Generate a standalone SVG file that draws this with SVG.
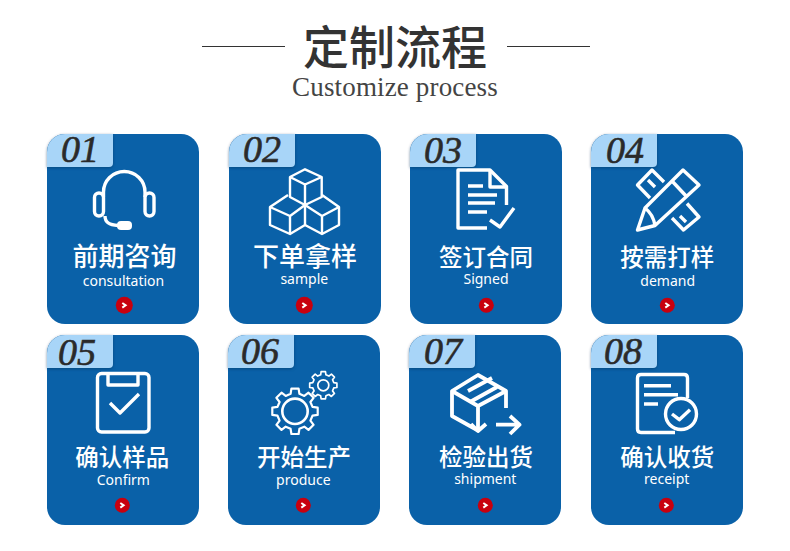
<svg xmlns="http://www.w3.org/2000/svg" width="790" height="551" viewBox="0 0 790 551">
<style>
.card{fill:#0A61A8}
.tab{fill:#A8D5F8}
.num{font:italic 400 38px "Liberation Serif",serif;fill:#2A2A2A;stroke:#2A2A2A;stroke-width:.6}
.cn{font-family:"Noto Sans CJK SC",sans-serif;font-weight:500;fill:#fff;text-anchor:middle;font-size:23.500px}
.cnb{font-size:26px}
.en{font-family:"Noto Sans",sans-serif;font-size:14px;fill:#fff;text-anchor:middle}
.dot{fill:#C8000E}
.chev{fill:none;stroke:#fff;stroke-width:2}
.ic{fill:none;stroke:#fff;stroke-width:3.400;stroke-linejoin:round}
.ln{stroke:#333;stroke-width:1}
</style>
<defs>
<path id="tabshape" d="M0,33V18A18,18 0 0 1 18,0H66V29Q66,33 62,33Z"/>
<filter id="soft" x="-20%" y="-20%" width="140%" height="140%"><feGaussianBlur stdDeviation="1.400"/></filter>
<g id="chevron"><path class="chev" d="M-2,-2.300L1.300,0L-2,2.300"/></g>
<path id="gear" d="M17.500,-4.400L22.700,-3.600V3.600L17.500,4.400L15.400,9.300L18.600,13.500L13.500,18.600L9.300,15.400L4.400,17.500L3.600,22.700H-3.600L-4.400,17.500L-9.300,15.400L-13.500,18.600L-18.600,13.500L-15.400,9.300L-17.500,4.400L-22.700,3.600V-3.600L-17.500,-4.400L-15.400,-9.300L-18.600,-13.500L-13.500,-18.600L-9.300,-15.400L-4.400,-17.500L-3.600,-22.700H3.600L4.400,-17.500L9.300,-15.400L13.500,-18.600L18.600,-13.500L15.400,-9.300Z"/>
</defs>
<rect width="790" height="551" fill="#fff"/>
<g id="header">
<line class="ln" x1="202" y1="46.500" x2="285" y2="46.500"/>
<line class="ln" x1="507" y1="46.500" x2="590" y2="46.500"/>
<text x="395" y="64" text-anchor="middle" font-family="'Noto Sans CJK SC',serif" font-size="46" font-weight="500" fill="#333">定制流程</text>
<text x="395" y="96" text-anchor="middle" font-family="'Liberation Serif',serif" font-size="27" letter-spacing=".15" fill="#444">Customize process</text>
</g>
<g id="connectors"/>
<g id="node-01">
<rect class="card" x="47" y="134" width="152" height="190" rx="18"/>
<use href="#tabshape" x="47" y="135" fill="#06345E" opacity=".55" filter="url(#soft)"/>
<use href="#tabshape" class="tab" x="47" y="134"/>
<text class="num" x="61" y="162">01</text>
<g class="ic">
<path d="M103.500,197V192A20.700,20.500 0 0 1 145,192V197"/>
<rect x="94.500" y="193" width="9" height="23" rx="4.500"/>
<rect x="145" y="193" width="9" height="23" rx="4.500"/>
<path d="M105,216C105,223 110,225 118,225.500"/>
</g>
<rect x="117" y="221" width="15" height="9" rx="4" fill="#fff"/>
<text class="cn cnb" x="124.500" y="266">前期咨询</text>
<text class="en" x="123.500" y="286">consultation</text>
<circle class="dot" cx="124.300" cy="305.300" r="8.500"/>
<use href="#chevron" x="124.300" y="305.300"/>
</g>
<g id="node-02">
<rect class="card" x="229" y="134" width="152" height="190" rx="18"/>
<use href="#tabshape" x="229" y="135" fill="#06345E" opacity=".55" filter="url(#soft)"/>
<use href="#tabshape" class="tab" x="229" y="134"/>
<text class="num" x="243" y="162">02</text>
<g class="ic" style="stroke-width:2.400">
<path d="M305,169.300L321.700,177V197L305,205L290,197V177Z"/>
<path d="M290,177L305,184.500L321.700,177M305,184.500V205"/>
<path d="M288,195L270,207V225L290,234L305,225V205"/>
<path d="M270,207L290,216L305,205M290,216V234"/>
<path d="M305,225L322,234L339,225V207L322,195"/>
<path d="M305,205L322,216L339,207M322,216V234"/>
</g>
<text class="cn cnb" x="305" y="266">下单拿样</text>
<text class="en" x="304.300" y="284">sample</text>
<circle class="dot" cx="304.300" cy="305.300" r="8.500"/>
<use href="#chevron" x="304.300" y="305.300"/>
</g>
<g id="node-03">
<rect class="card" x="410" y="134" width="152" height="190" rx="18"/>
<use href="#tabshape" x="410" y="135" fill="#06345E" opacity=".55" filter="url(#soft)"/>
<use href="#tabshape" class="tab" x="410" y="134"/>
<text class="num" x="424" y="163">03</text>
<g class="ic">
<path d="M487,228H458V170H490L506.500,186.500V205"/>
<path d="M490,171V187H506"/>
<path d="M468,186H483M468,195H497M468,203H495M468,212H487"/>
<path d="M490,220L500,227L514,208"/>
</g>
<text class="cn" x="486" y="266">签订合同</text>
<text class="en" x="486" y="284">Signed</text>
<circle class="dot" cx="486.300" cy="305.300" r="7.500"/>
<use href="#chevron" x="486.300" y="305.300"/>
</g>
<g id="node-04">
<rect class="card" x="591" y="134" width="152" height="190" rx="18"/>
<use href="#tabshape" x="591" y="135" fill="#06345E" opacity=".55" filter="url(#soft)"/>
<use href="#tabshape" class="tab" x="591" y="134"/>
<text class="num" x="606" y="163">04</text>
<g class="ic">
<path d="M664,182L652,170L637.500,185L650,198"/>
<path d="M648,180L655,187"/>
<path d="M687,203.500L699,217L683.500,230L672,218"/>
<path d="M680,216L686,222"/>
<path d="M683,170L699,185L655,225.500L637.500,230L645,208Z"/>
<path d="M672,181L687,197M645,208Q653,214 655,225.500"/>
</g>
<text class="cn" x="667.300" y="266">按需打样</text>
<text class="en" x="667.700" y="286">demand</text>
<circle class="dot" cx="667.300" cy="305.300" r="7.500"/>
<use href="#chevron" x="667.300" y="305.300"/>
</g>
<g id="node-05">
<rect class="card" x="47" y="335" width="152" height="190" rx="18"/>
<use href="#tabshape" x="47" y="336" fill="#06345E" opacity=".55" filter="url(#soft)"/>
<use href="#tabshape" class="tab" x="47" y="335"/>
<text class="num" x="58" y="365">05</text>
<g class="ic">
<rect x="97.500" y="373.500" width="51.500" height="58.500" rx="4"/>
<path d="M108,374V385H138V374"/>
<path d="M110,403L120,413L139,394"/>
</g>
<text class="cn" x="122.300" y="466">确认样品</text>
<text class="en" x="123.300" y="485">Confirm</text>
<circle class="dot" cx="122.300" cy="505.300" r="7.500"/>
<use href="#chevron" x="122.300" y="505.300"/>
</g>
<g id="node-06">
<rect class="card" x="228" y="335" width="152" height="190" rx="18"/>
<use href="#tabshape" x="228" y="336" fill="#06345E" opacity=".55" filter="url(#soft)"/>
<use href="#tabshape" class="tab" x="228" y="335"/>
<text class="num" x="241" y="364">06</text>
<use href="#gear" class="ic" style="stroke-width:2.200" transform="translate(295,411.300)"/>
<circle class="ic" cx="295" cy="411.300" r="12.700" style="stroke-width:2.600"/>
<use href="#gear" class="ic" style="stroke-width:2.800" transform="translate(323.300,385.300) scale(.6)"/>
<circle class="ic" cx="323.300" cy="385.300" r="5.500" style="stroke-width:1.700"/>
<text class="cn" x="304" y="466">开始生产</text>
<text class="en" x="303.300" y="484.500">produce</text>
<circle class="dot" cx="303.300" cy="505.300" r="7.500"/>
<use href="#chevron" x="303.300" y="505.300"/>
</g>
<g id="node-07">
<rect class="card" x="409" y="335" width="152" height="190" rx="18"/>
<use href="#tabshape" x="409" y="336" fill="#06345E" opacity=".55" filter="url(#soft)"/>
<use href="#tabshape" class="tab" x="409" y="335"/>
<text class="num" x="424" y="364">07</text>
<g class="ic" style="stroke-width:3.800">
<path d="M506,408V391L478,375L452,391V416L478,430.500"/>
<path d="M452,391L478,406L506,391M478,406V430"/>
<path d="M468,391L492,378M470,402L497,387"/>
<path d="M471,424L478,431L486,424"/>
<path d="M496,424.700H519M510,416L519.500,424.700L510,434"/>
</g>
<text class="cn" x="486" y="466">检验出货</text>
<text class="en" x="485.300" y="484">shipment</text>
<circle class="dot" cx="485.300" cy="505.300" r="7.500"/>
<use href="#chevron" x="485.300" y="505.300"/>
</g>
<g id="node-08">
<rect class="card" x="591" y="335" width="152" height="190" rx="18"/>
<use href="#tabshape" x="591" y="336" fill="#06345E" opacity=".55" filter="url(#soft)"/>
<use href="#tabshape" class="tab" x="591" y="335"/>
<text class="num" x="604" y="364">08</text>
<g class="ic">
<path d="M675,432.500H641Q637.500,432.500 637.500,429V378Q637.500,374.500 641,374.500H684Q687.500,374.500 687.500,378V398"/>
<path d="M644,385.700H671M644,394.700H678M644,404H658"/>
<circle cx="681" cy="414" r="15.500"/>
<path d="M672,414L679.300,419.700L690,409.700"/>
</g>
<text class="cn" x="667.300" y="466">确认收货</text>
<text class="en" x="666.700" y="484">receipt</text>
<circle class="dot" cx="666.300" cy="505.300" r="7.500"/>
<use href="#chevron" x="666.300" y="505.300"/>
</g>
</svg>
